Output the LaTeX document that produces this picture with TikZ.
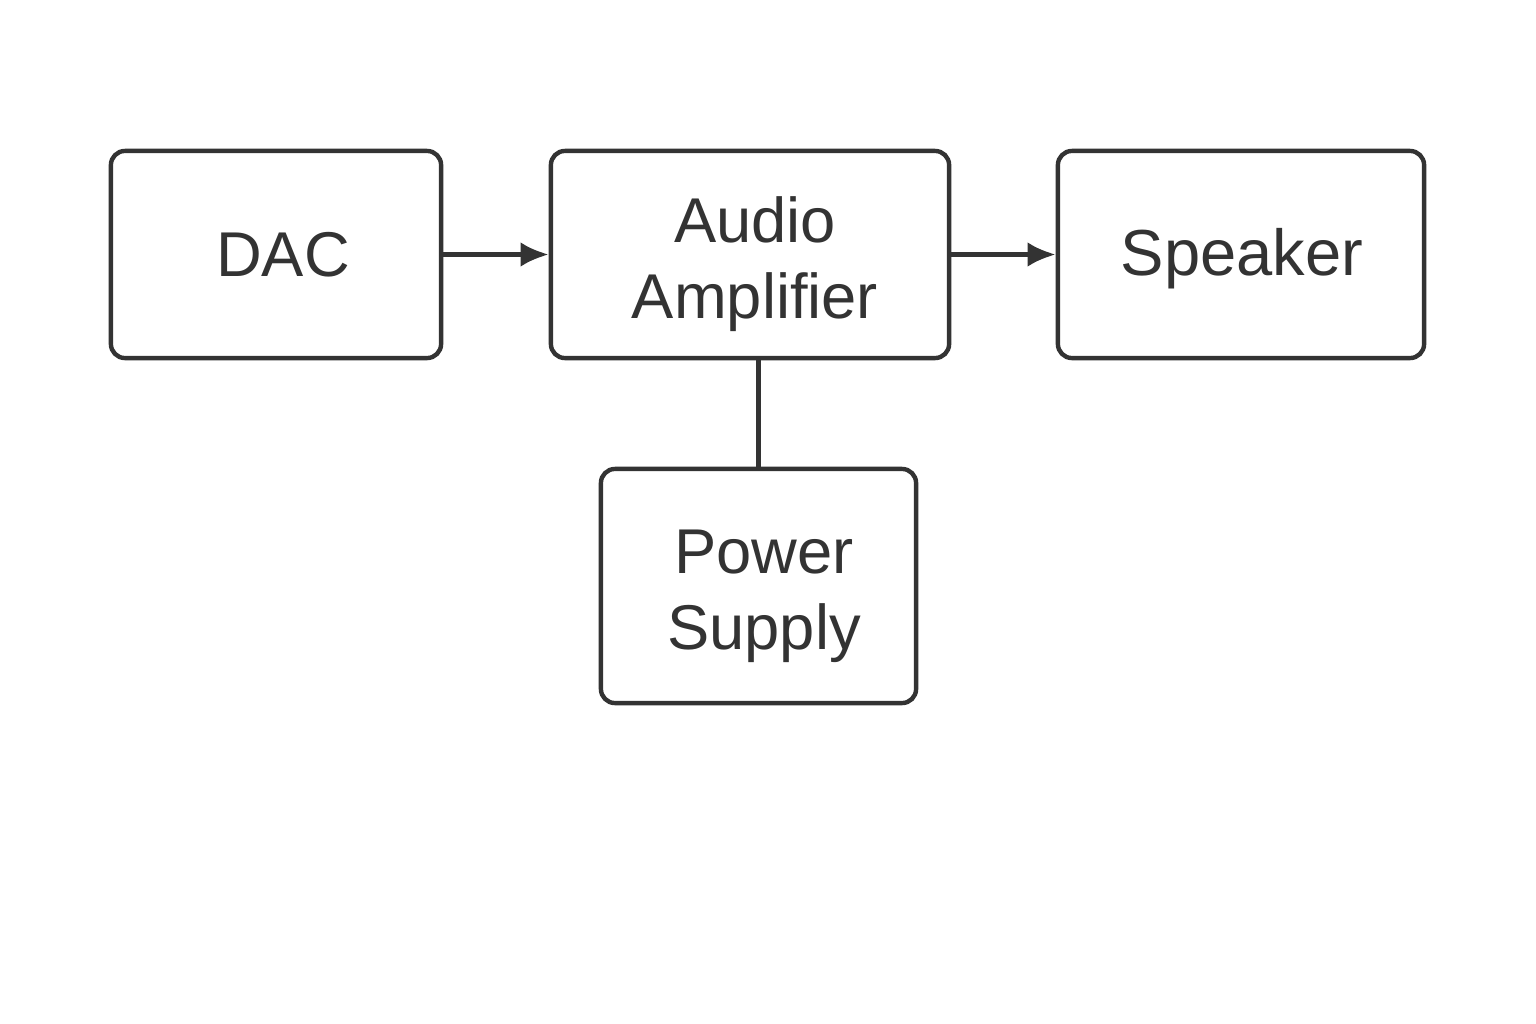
\documentclass[tikz,border=0pt]{standalone}
\usepackage{fontspec}
\setmainfont{Liberation Sans}
\usetikzlibrary{arrows.meta}
\definecolor{ink}{HTML}{333333}
\begin{document}
\begin{tikzpicture}[x=0.01cm,y=-0.01cm,
  blockbox/.style={draw=ink,line width=1.25pt,rounded corners=4pt,inner sep=0pt},
  lbl/.style={inner sep=0pt,text=ink,font=\fontsize{18}{21.6}\selectfont,align=center},
  conn/.style={draw=ink,line width=1.25pt},
  arr/.style={conn,-{Latex[length=8pt,width=7pt]}}]
\useasboundingbox (0,0) rectangle (1536,1024);
\node[blockbox,minimum width=3.30cm,minimum height=2.07cm] (dac) at (276,254.5) {};
\node[blockbox,minimum width=3.98cm,minimum height=2.07cm] (amp) at (750,254.5) {};
\node[blockbox,minimum width=3.15cm,minimum height=2.34cm] (psu) at (758.5,586) {};
\node[blockbox,minimum width=3.66cm,minimum height=2.07cm] (spk) at (1241,254.5) {};
\node[lbl] (dacT) at (283,254.5) {DAC};
\node[lbl] (ampT) at (755,264) {Audio\\Amplifier};
\node[lbl] (psuT) at (764,596) {Power\\Supply};
\node[lbl,font=\fontsize{18.5}{21.6}\selectfont] (spkT) at (1242,259) {Speaker};
\draw[arr] (dac.east) -- (amp.west);
\draw[arr] (amp.east) -- (spk.west);
\draw[conn] (psu.north |- amp.south) -- (psu.north);
\end{tikzpicture}
\end{document}
